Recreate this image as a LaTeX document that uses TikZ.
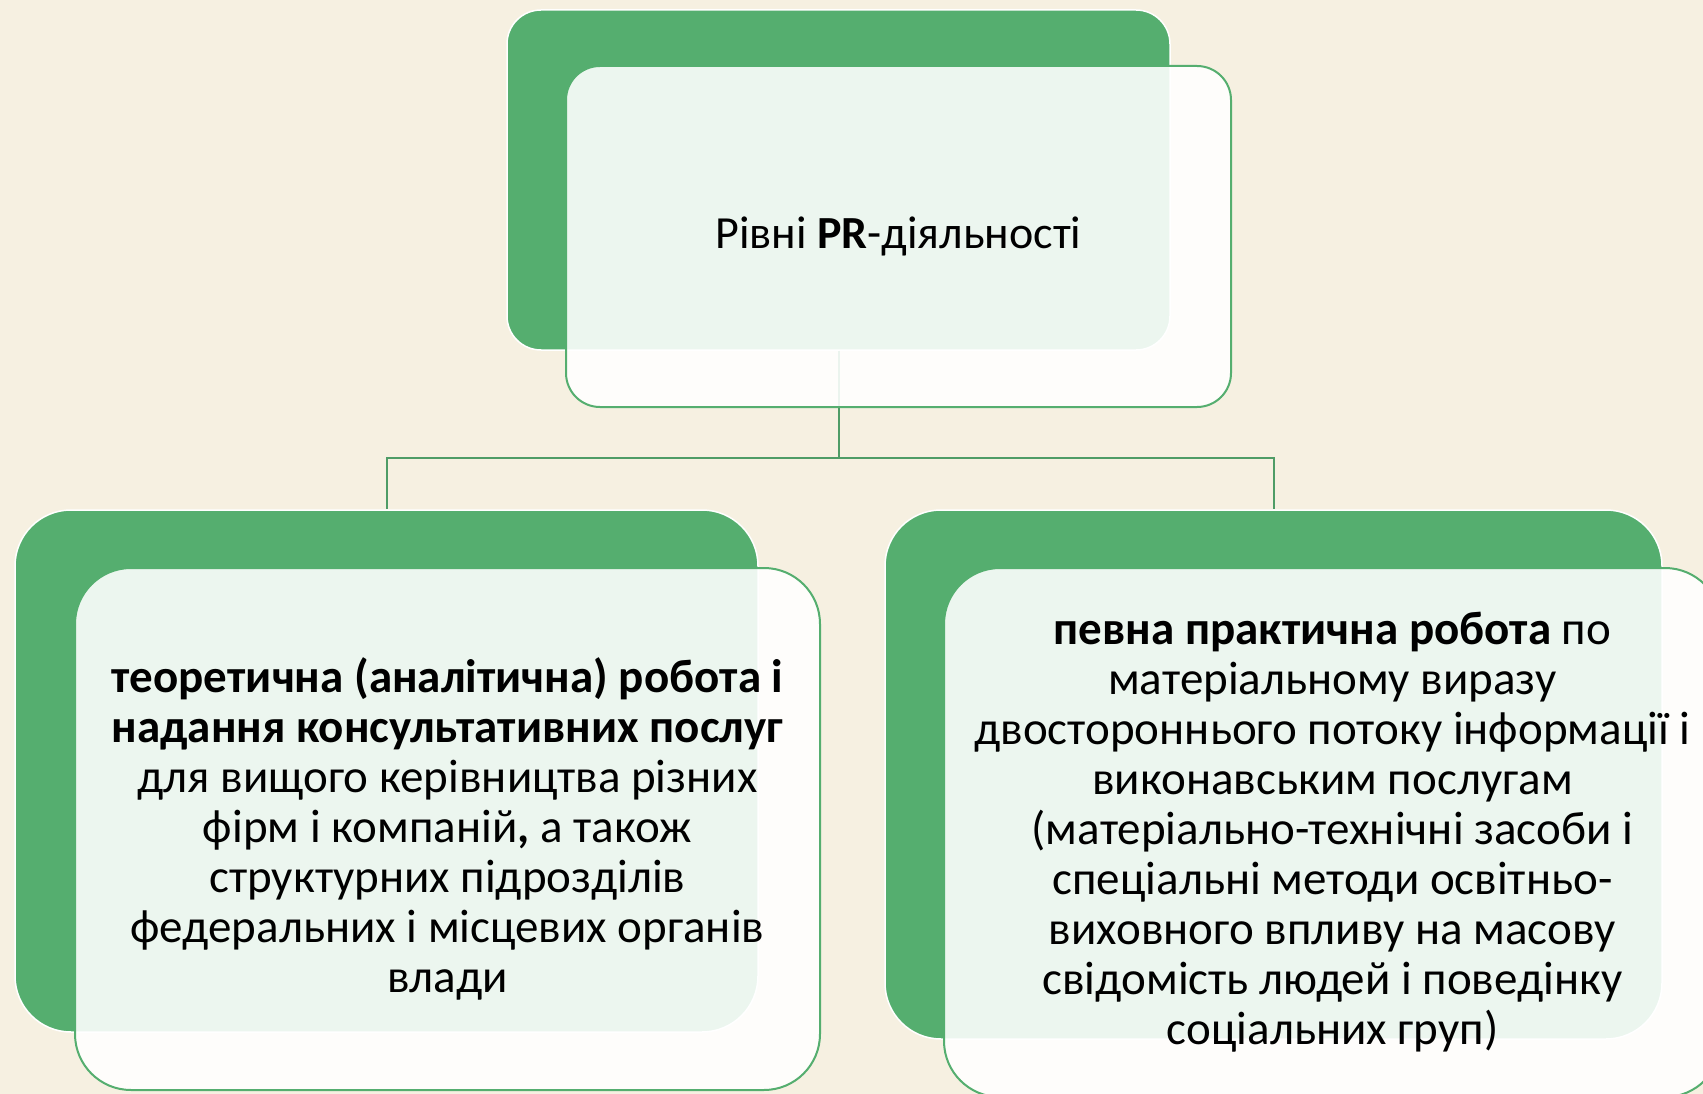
\documentclass[tikz,border=0pt]{standalone}
\usepackage{fontspec}
\setmainfont{Carlito}
\definecolor{leafgreen}{HTML}{55AE6F}
\definecolor{linegreen}{HTML}{4F9C66}
\definecolor{paper}{HTML}{F6F0E1}

\tikzset{
  backbox/.style={rectangle, draw=white, line width=1.5pt, fill=leafgreen,
    rounded corners=#1, inner sep=0pt},
  frontbox/.style={rectangle, draw=leafgreen, line width=2pt, fill=white,
    fill opacity=0.89, text opacity=1, rounded corners=#1, inner sep=0pt,
    align=center, font=\fontsize{47}{50}\selectfont},
  link/.style={draw=linegreen, line width=2pt}
}

\begin{document}
\begin{tikzpicture}[x=1pt, y=-1pt]
\path[use as bounding box, fill=paper] (0,0) rectangle (1703,1094);
\clip (0,0) rectangle (1703,1094);

% green backs
\node[backbox=34pt, minimum width=663pt, minimum height=340pt] (topg) at (838.5,180) {};
\node[backbox=56pt, minimum width=743pt, minimum height=522pt] (leftg) at (386.5,771) {};
\node[backbox=56pt, minimum width=777pt, minimum height=529pt] (rightg) at (1273.5,774.5) {};

% tree lines
\draw[link] (topg.south) -- ++(0,107) -| (leftg.north);
\draw[link] (topg.south) -- ++(0,107) -| (rightg.north);

% front cards
\node[frontbox=34pt, minimum width=665pt, minimum height=341pt,
  font=\fontsize{46}{56}\selectfont] (topw) at (898.5,236.5)
  {Рівні \textbf{PR}-діяльності};
\node[frontbox=56pt, minimum width=745pt, minimum height=522pt] (leftw) at (447.5,829)
  {\textbf{теоретична (аналітична) робота і}\\
   \textbf{надання консультативних послуг}\\
   для вищого керівництва різних\\
   фірм і компаній\textbf{,} а також\\
   структурних підрозділів\\
   федеральних і місцевих органів\\
   влади};
\node[frontbox=56pt, minimum width=777pt, minimum height=529pt] (rightw) at (1332.5,832.5)
  {\textbf{певна практична робота} по\\
   матеріальному виразу\\
   двостороннього потоку інформації і\\
   виконавським послугам\\
   (матеріально-технічні засоби і\\
   спеціальні методи освітньо-\\
   виховного впливу на масову\\
   свідомість людей і поведінку\\
   соціальних груп)};
\end{tikzpicture}
\end{document}
